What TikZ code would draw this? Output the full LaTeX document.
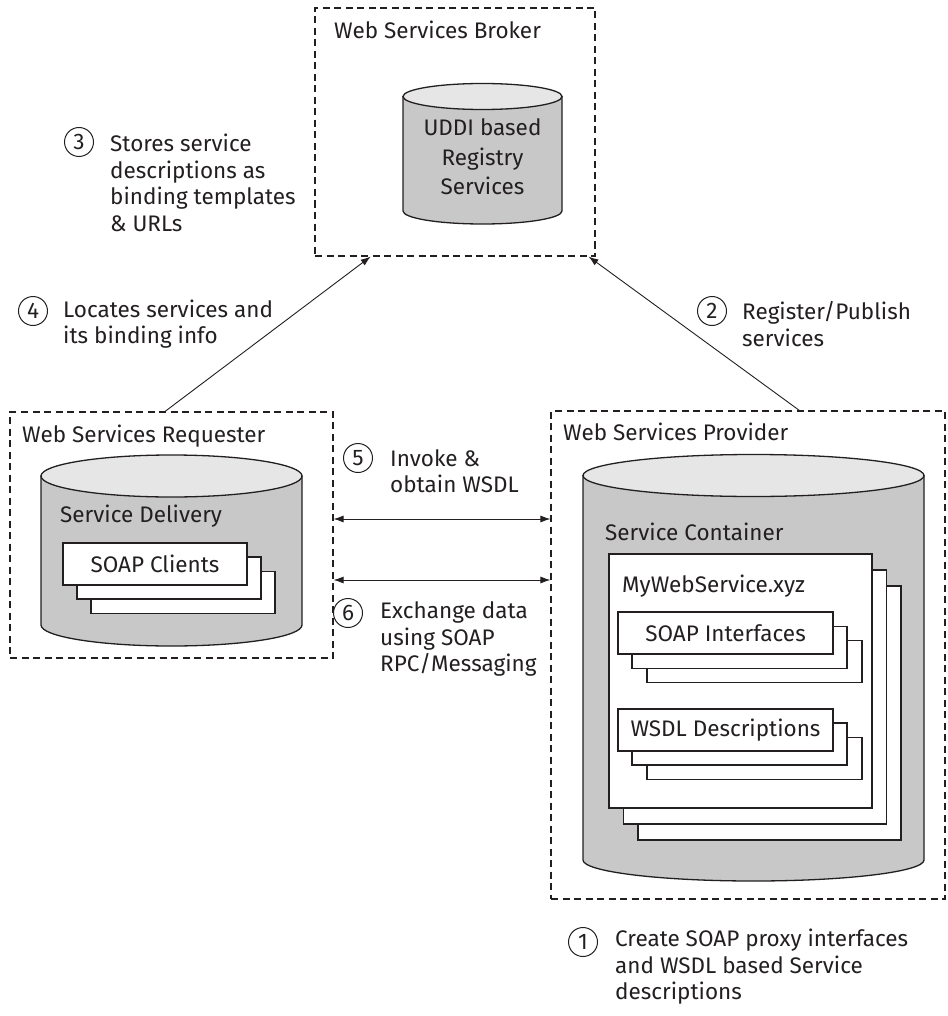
\documentclass[tikz,border=0pt]{standalone}
\usepackage{fontspec}
\setmainfont{Fira Sans}
\usetikzlibrary{arrows.meta,calc}
\definecolor{body}{HTML}{C8C8C8}
\definecolor{topc}{HTML}{E6E6E6}
\definecolor{ink}{HTML}{231F20}
\newcommand\lab{\fontsize{22.5}{26.5}\selectfont}
\newcommand\cylinderdraw[5]{%
  % #1 left, #2 right, #3 top centre y, #4 bottom centre y, #5 y radius
  \pgfmathsetmacro\crx{(#2-#1)/2}%
  \pgfmathsetmacro\ccx{(#2+#1)/2}%
  \filldraw[fill=body,draw=ink,line width=1.3pt] (#1,#3) -- (#1,#4) arc[start angle=180,end angle=0,x radius=\crx,y radius=#5] -- (#2,#3) -- cycle;
  \filldraw[fill=topc,draw=ink,line width=1.3pt] (\ccx,#3) ellipse[x radius=\crx,y radius=#5];
}
\begin{document}
\begin{tikzpicture}[x=1pt,y=-1pt,
  every node/.style={text=ink},
  zone/.style={draw=ink,dash pattern=on 7pt off 4.5pt,line width=1.1pt,inner sep=0pt},
  title/.style={font=\lab,anchor=base west,inner sep=0pt},
  lbl/.style={font=\lab,align=left,anchor=west,inner sep=0pt},
  num/.style={circle,draw=ink,line width=1pt,minimum size=29pt,inner sep=0pt,font=\lab},
  sheet/.style={draw=ink,fill=white,line width=1.2pt,inner sep=0pt,font=\lab},
  arr/.style={-{Latex[length=10pt,width=7pt]},draw=ink,line width=0.9pt},
  darr/.style={{Latex[length=10pt,width=7pt]}-{Latex[length=10pt,width=7pt]},draw=ink,line width=0.9pt}]
\useasboundingbox (0,0) rectangle (947,1016);

% zones
\node[zone,minimum width=280pt,minimum height=248pt] (broker) at (455,132) {};
\node[zone,minimum width=323pt,minimum height=246pt] (requester) at (171.5,535) {};
\node[zone,minimum width=394pt,minimum height=488pt] (provider) at (748,655) {};

\node[title] (tbroker) at (334,39) {Web Services Broker};
\node[title] (treq) at (22,442) {Web Services Requester};
\node[title] (tprov) at (563,440) {Web Services Provider};

% broker cylinder
\cylinderdraw{403}{562}{96.5}{211}{13}
\node[font=\fontsize{22.5}{29.5}\selectfont,align=center,inner sep=0pt] (uddi) at (482.5,157) {UDDI based\\Registry\\Services};

% requester cylinder
\cylinderdraw{41}{302}{476}{625}{21}
\node[title] (sdel) at (60,522) {Service Delivery};
\node[sheet,minimum width=184pt,minimum height=42pt] (sc3) at (183,592.5) {};
\node[sheet,minimum width=184pt,minimum height=42pt] (sc2) at (169,578) {};
\node[sheet,minimum width=184pt,minimum height=42pt] (sc1) at (155,564) {SOAP Clients};

% provider cylinder
\cylinderdraw{583}{924}{475.5}{860}{21}
\node[title] (scont) at (605,540) {Service Container};
\node[sheet,minimum width=263pt,minimum height=254pt] (mw3) at (769.5,713) {};
\node[sheet,minimum width=263pt,minimum height=254pt] (mw2) at (755,697) {};
\node[sheet,minimum width=263pt,minimum height=254pt] (mw1) at (740.5,681) {};
\node[title] (mwt) at (622,592) {MyWebService.xyz};
\node[sheet,minimum width=215pt,minimum height=42pt] (si3) at (754.5,661.5) {};
\node[sheet,minimum width=215pt,minimum height=42pt] (si2) at (739.5,647.5) {};
\node[sheet,minimum width=215pt,minimum height=42pt] (si1) at (725.5,633) {SOAP Interfaces};
\node[sheet,minimum width=215pt,minimum height=42pt] (wd3) at (754.5,758.5) {};
\node[sheet,minimum width=215pt,minimum height=42pt] (wd2) at (739.5,744) {};
\node[sheet,minimum width=215pt,minimum height=42pt] (wd1) at (725.5,730) {WSDL Descriptions};

% connectors
\draw[arr] ($(requester.north west)!0.48!(requester.north east)$) -- ($(broker.south west)!0.2!(broker.south east)$);
\draw[arr] ($(provider.north west)!0.63!(provider.north east)$) -- ($(broker.south west)!0.975!(broker.south east)$);
\coordinate (y5) at (0,519);
\coordinate (y6) at (0,580);
\draw[darr] (requester.east |- y5) -- (provider.west |- y5);
\draw[darr] (requester.east |- y6) -- (provider.west |- y6);

% step labels
\node[num] (n3) at (79,142) {3};
\node[lbl] (l3) at (110,183) {Stores service\\descriptions as\\binding templates\\\& URLs};
\node[num] (n4) at (33,311) {4};
\node[lbl] (l4) at (63,324) {Locates services and\\its binding info};
\node[num] (n2) at (712,311) {2};
\node[lbl] (l2) at (742,324) {Register/Publish\\services};
\node[num] (n5) at (358,458) {5};
\node[lbl] (l5) at (390,471) {Invoke \&\\obtain WSDL};
\node[num] (n6) at (348,613) {6};
\node[lbl] (l6) at (380,639) {Exchange data\\using SOAP\\RPC/Messaging};
\node[num] (n1) at (583,942) {1};
\node[lbl] (l1) at (615,967) {Create SOAP proxy interfaces\\and WSDL based Service\\descriptions};
\end{tikzpicture}
\end{document}
